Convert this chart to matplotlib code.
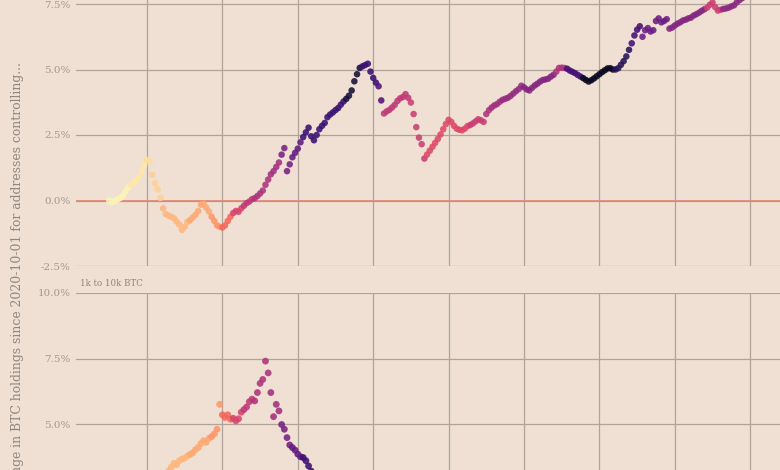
import numpy as np
import pandas as pd
import matplotlib
matplotlib.use("Agg")
import matplotlib.pyplot as plt
import matplotlib.ticker as mticker

# % change in holdings, sampled every 12h from 2020-10-01
top_pct = [
    0.0, -0.06, -0.02, 0.04, 0.09, 0.18, 0.35, 0.5, 0.58, 0.68, 0.76, 0.88, 1.12, 1.35,
    1.55, 1.5, 0.98, 0.65, 0.42, 0.1, -0.3, -0.52, -0.58, -0.62, -0.68, -0.8, -0.92, -1.12,
    -1.0, -0.82, -0.75, -0.65, -0.55, -0.4, -0.16, -0.12, -0.27, -0.42, -0.62, -0.78, -0.95, -1.0,
    -1.03, -0.95, -0.78, -0.62, -0.48, -0.4, -0.43, -0.3, -0.2, -0.1, -0.04, 0.05, 0.09, 0.17,
    0.27, 0.38, 0.6, 0.8, 1.0, 1.12, 1.28, 1.45, 1.75, 2.0, 1.12, 1.38, 1.65, 1.82,
    1.98, 2.22, 2.42, 2.6, 2.78, 2.45, 2.3, 2.5, 2.72, 2.85, 2.96, 3.18, 3.28, 3.36,
    3.45, 3.53, 3.66, 3.78, 3.88, 4.0, 4.2, 4.55, 4.82, 5.06, 5.12, 5.17, 5.22, 4.92,
    4.68, 4.5, 4.36, 3.82, 3.32, 3.4, 3.46, 3.55, 3.65, 3.8, 3.9, 3.95, 4.06, 3.92,
    3.74, 3.3, 2.8, 2.4, 2.15, 1.6, 1.75, 1.9, 2.05, 2.2, 2.35, 2.52, 2.72, 2.92,
    3.08, 3.0, 2.85, 2.74, 2.7, 2.68, 2.74, 2.84, 2.88, 2.94, 3.02, 3.1, 3.06, 3.0,
    3.3, 3.45, 3.55, 3.63, 3.68, 3.77, 3.84, 3.88, 3.92, 3.99, 4.08, 4.17, 4.25, 4.38,
    4.32, 4.24, 4.2, 4.3, 4.39, 4.46, 4.54, 4.6, 4.62, 4.65, 4.73, 4.8, 4.92, 5.06,
    5.07, 5.06, 5.03, 4.96, 4.91, 4.86, 4.79, 4.73, 4.67, 4.6, 4.54, 4.59, 4.66, 4.74,
    4.82, 4.9, 4.97, 5.04, 5.05, 5.0, 5.0, 5.05, 5.18, 5.32, 5.5, 5.75, 6.0, 6.3,
    6.52, 6.65, 6.25, 6.5, 6.58, 6.45, 6.5, 6.85, 6.95, 6.8, 6.85, 6.92, 6.56, 6.6,
    6.68, 6.75, 6.8, 6.87, 6.9, 6.95, 6.98, 7.06, 7.11, 7.17, 7.24, 7.3, 7.36, 7.47,
    7.56, 7.38, 7.25, 7.28, 7.31, 7.33, 7.36, 7.41, 7.45, 7.56, 7.65, 7.72, 7.78, 7.84,
]

# 1k to 10k BTC panel, visible part only (from 2020-10-11)
bot_start = 20  # index in 12h steps
bot_pct = [
    2.9, 3.05, 3.2, 3.35, 3.5, 3.45, 3.6, 3.66, 3.7, 3.78, 3.84, 3.9, 4.02, 4.1,
    4.25, 4.36, 4.3, 4.45, 4.52, 4.62, 4.8, 5.75, 5.35, 5.25, 5.35, 5.18, 5.22, 5.12,
    5.2, 5.45, 5.55, 5.65, 5.85, 5.95, 5.88, 6.2, 6.55, 6.7, 7.4, 6.95, 6.2, 5.28,
    5.75, 5.5, 4.98, 4.8, 4.48, 4.2, 4.1, 4.0, 3.85, 3.75, 3.72, 3.6, 3.4, 3.2, 3.0,
]

# colour value per day (0 = dark, 1 = light)
day_col = [
    0.98, 0.98, 0.98, 0.98, 0.95, 0.95, 0.95, 0.93, 0.9, 0.9,
    0.85, 0.85, 0.85, 0.85, 0.85, 0.82, 0.82, 0.82, 0.82, 0.78,
    0.78, 0.68, 0.68, 0.58, 0.58, 0.52, 0.52, 0.48, 0.48, 0.48,
    0.45, 0.45, 0.35, 0.35, 0.3, 0.3, 0.2, 0.2, 0.2, 0.2,
    0.2, 0.2, 0.2, 0.2, 0.1, 0.1, 0.1, 0.2, 0.2, 0.2,
    0.25, 0.52, 0.52, 0.52, 0.52, 0.52, 0.55, 0.55, 0.55, 0.6,
    0.6, 0.6, 0.6, 0.6, 0.6, 0.6, 0.6, 0.55, 0.55, 0.55,
    0.48, 0.45, 0.45, 0.43, 0.42, 0.42, 0.42, 0.38, 0.38, 0.38,
    0.38, 0.38, 0.38, 0.48, 0.48, 0.22, 0.22, 0.22, 0.06, 0.06,
    0.06, 0.06, 0.06, 0.06, 0.15, 0.15, 0.15, 0.22, 0.22, 0.32,
    0.32, 0.32, 0.32, 0.32, 0.38, 0.38, 0.38, 0.38, 0.38, 0.38,
    0.38, 0.55, 0.55, 0.55, 0.4, 0.4, 0.4, 0.4, 0.4,
]

start = pd.Timestamp("2020-10-01")
t_top = start + pd.to_timedelta(np.arange(len(top_pct)) * 12, unit="h")
t_bot = start + pd.to_timedelta((bot_start + np.arange(len(bot_pct))) * 12, unit="h")
c_all = np.repeat(day_col, 2)
c_top = c_all[:len(top_pct)]
c_bot = c_all[bot_start:bot_start + len(bot_pct)]

bg = "#efe0d3"
grid_col = "#afa39a"
tick_col = "#a1978f"

fig = plt.figure(figsize=(7.8, 4.7), dpi=100, facecolor=bg)
W, H = 780, 470

def px_axes(x0, x1, y_top, y_bot):
    return fig.add_axes([x0 / W, (H - y_bot) / H, (x1 - x0) / W, (y_bot - y_top) / H])

ax1 = px_axes(76, 812, -9.1, 266)
ax2 = px_axes(76, 812, 293, 620.5)

xmin = start + pd.Timedelta(days=-6.18)
xmax = start + pd.Timedelta(days=130.47)
grid_days = pd.date_range("2020-10-08", periods=9, freq="14D")

ax1.set_yticks([-2.5, 0, 2.5, 5.0, 7.5])
ax1.set_ylim(-2.5, 8.0)
ax2.set_yticks([-2.5, 0, 2.5, 5.0, 7.5, 10.0])
ax2.set_ylim(-2.5, 10.0)

for ax in (ax1, ax2):
    ax.set_facecolor(bg)
    for s in ax.spines.values():
        s.set_visible(False)
    ax.set_xticks(grid_days)
    ax.set_xlim(xmin, xmax)
    ax.yaxis.set_major_formatter(mticker.FuncFormatter(lambda v, p: f"{v:.1f}%"))
    ax.grid(True, color=grid_col, linewidth=0.9)
    ax.set_axisbelow(True)
    ax.tick_params(axis="x", length=0, labelbottom=False)
    ax.tick_params(axis="y", length=0, pad=4, labelsize=7.5, labelcolor=tick_col)
    for lab in ax.get_yticklabels():
        lab.set_family("DejaVu Serif")

ax1.axhline(0, color="#e08371", linewidth=1.2, zorder=1)

ax1.scatter(t_top, top_pct, c=c_top, cmap="magma", vmin=0, vmax=1,
            s=22, alpha=0.88, linewidths=0, zorder=3)
ax2.scatter(t_bot, bot_pct, c=c_bot, cmap="magma", vmin=0, vmax=1,
            s=24, alpha=0.88, linewidths=0, zorder=3)

fig.text(80 / W, (H - 284) / H, "1k to 10k BTC", family="DejaVu Serif",
         fontsize=6.2, color="#8c837c", ha="left", va="center")

fig.text(18 / W, (H - 62) / H,
         "Percentage change in BTC holdings since 2020-10-01 for addresses controlling...",
         family="DejaVu Serif", fontsize=8.9, color="#8e8680",
         rotation=90, ha="center", va="top")

fig.savefig("out.png", dpi=100, facecolor=bg)
